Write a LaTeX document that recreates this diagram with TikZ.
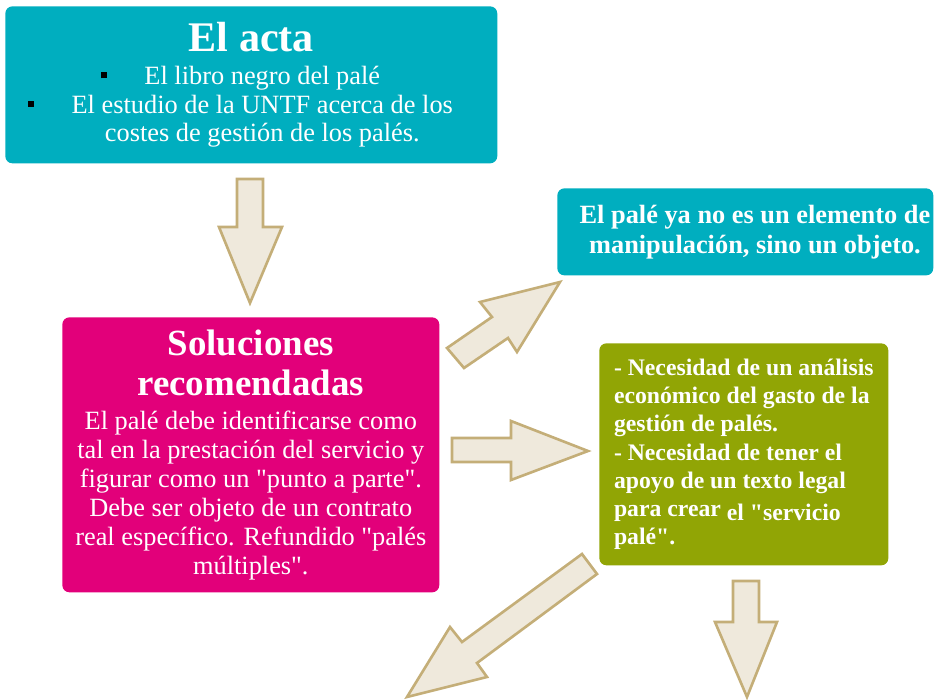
\documentclass[tikz,border=0pt]{standalone}
\usepackage{fontspec}
\setmainfont{Liberation Serif}[Ligatures=TeXOff]
\usetikzlibrary{calc}
\definecolor{actablue}{RGB}{0,174,191}
\definecolor{solpink}{RGB}{226,0,122}
\definecolor{necolive}{RGB}{145,165,5}
\definecolor{flechafill}{RGB}{239,233,220}
\definecolor{flechadraw}{RGB}{196,174,120}
\newcommand*{\xMin}{0}
\newcommand*{\xMax}{937}
\newcommand*{\yMin}{0}
\newcommand*{\yMax}{700}
\newcommand*{\sqbullet}{\textcolor{black}{\rule[3.5pt]{3.5pt}{3.5pt}}}
\newcommand*{\tsol}[1]{{\fontsize{21}{24}\selectfont\bfseries #1}}

\begin{document}
\begin{tikzpicture}[x=0.02cm,y=-0.02cm,
	caja/.style={rounded corners=4pt,text=white,inner sep=0pt,anchor=north west,align=center},
	flecha/.style={fill=flechafill,draw=flechadraw,line width=1.5pt,line join=miter}]
	\useasboundingbox (\xMin,\yMin) rectangle (\xMax,\yMax);
	%
	\node[caja,fill=actablue,minimum width=9.84cm,minimum height=3.14cm,
		font=\fontsize{15}{16.2}\selectfont] (acta) at (5,6)
		{{\fontsize{24}{28}\selectfont\bfseries El acta}\\[2.5pt]
		\sqbullet\hspace{21.5pt}El libro negro del palé\makebox[12.5pt]{}\\
		\sqbullet\hspace{21.5pt}El estudio de la UNTF acerca de los\makebox[12.5pt]{}\\
		\hspace*{12.5pt}costes de gestión de los palés.};
	%
	\node[caja,fill=actablue,minimum width=7.52cm,minimum height=1.74cm,
		font=\fontsize{15}{17}\selectfont\bfseries] (objeto) at (557,188)
		{\hspace*{11pt}El palé ya no es un elemento de\\
		\hspace*{11pt}manipulación, sino un objeto.};
	%
	\node[caja,fill=solpink,minimum width=7.54cm,minimum height=5.5cm,
		font=\fontsize{15}{16.5}\selectfont] (soluciones) at (62,317)
		{\tsol{Soluciones}\\[6.2pt]
		\tsol{recomendadas}\\[3pt]
		El palé debe identificarse como\\
		tal en la prestación del servicio y\\
		figurar como un "punto a parte".\\
		Debe ser objeto de un contrato\\
		real específico. Refundido "palés\\
		múltiples".};
	%
	\node[caja,fill=necolive,minimum width=5.78cm,minimum height=4.44cm,align=left,
		font=\fontsize{13.5}{16}\selectfont\bfseries] (necesidad) at (599,343)
		{- Necesidad de un análisis\\
		económico del gasto de la\\
		gestión de palés.\\
		- Necesidad de tener el\\
		apoyo de un texto legal\\
		para crear \raisebox{-2.5pt}{el "servicio}\\
		palé".};
	
%\draw[red] (acta.south) -- (soluciones.north);
	
	\begin{scope}[xshift=0cm,yshift=0cm]
		\draw[flecha] (237,179)--(263,179)--(263,227)--(282,227)--(250,303)--(219,227)--(237,227)--cycle;
		\draw[flecha] (447,348)--(492,317)--(480,302)--(560,282)--(517,352)--(508,338)--(464,368)--cycle;
		\draw[flecha] (452,438)--(511,438)--(511,421)--(588,451)--(511,480)--(511,462)--(452,462)--cycle;
		\draw[flecha] (582,554)--(597,574)--(477,663)--(487,677)--(407,697)--(450,627)--(462,642)--cycle;
		\draw[flecha] (733,581)--(759,581)--(759,622)--(777,622)--(747,697)--(715,622)--(733,622)--cycle;
	\end{scope}
	
\end{tikzpicture}
\end{document}
